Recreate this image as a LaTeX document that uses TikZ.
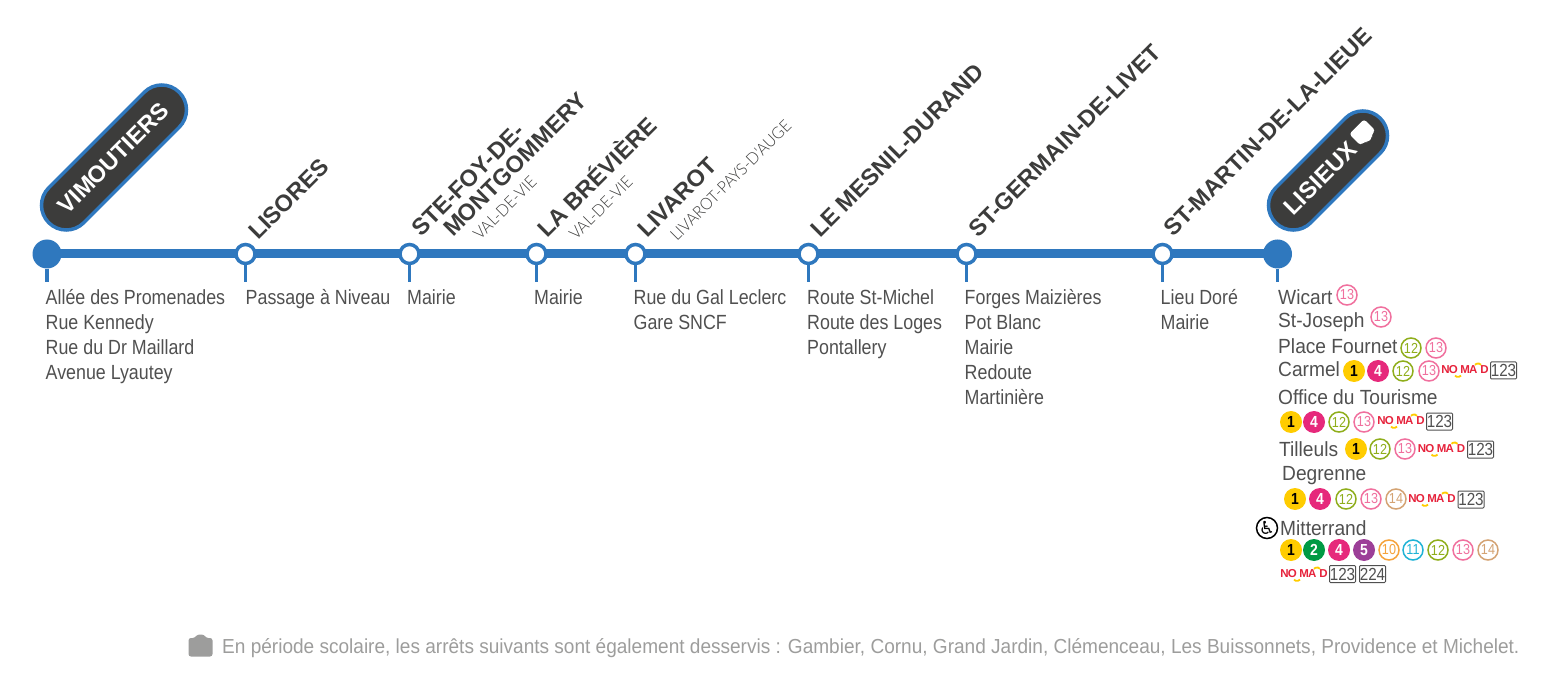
\documentclass[tikz,border=0pt]{standalone}
\usepackage{fontspec}
\usetikzlibrary{backgrounds}
\setmainfont[FakeStretch=0.87]{Liberation Sans}
\newfontfamily\stafont{Liberation Sans}
\newfontfamily\lisfont[FakeStretch=0.935]{Liberation Sans}
\newfontfamily\notefont[FakeStretch=0.938]{Liberation Sans}
\newfontfamily\thinfont[FakeStretch=0.95]{Lato Light}
\newfontfamily\symfont{DejaVu Sans}
\definecolor{lineblue}{HTML}{2F78BE}
\definecolor{darkpill}{HTML}{3C3C3B}
\definecolor{bodytxt}{HTML}{505050}
\definecolor{notegrey}{HTML}{9D9D9C}
\definecolor{cyel}{HTML}{FFCC00}
\definecolor{cpink}{HTML}{E6297B}
\definecolor{cgreen}{HTML}{009A44}
\definecolor{cpurple}{HTML}{9C3F98}
\definecolor{colive}{HTML}{8FAE1B}
\definecolor{crose}{HTML}{F0709E}
\definecolor{ctan}{HTML}{D4A373}
\definecolor{corange}{HTML}{F5A33C}
\definecolor{ccyan}{HTML}{1FB3D6}
\definecolor{cred}{HTML}{E6233C}
\tikzset{
  halt/.style={circle,draw=lineblue,line width=3.5pt,fill=white,minimum size=19pt,inner sep=0pt},
  terminus/.style={circle,fill=lineblue,minimum size=29pt,inner sep=0pt},
  trunk/.style={draw=lineblue,line width=9pt},
  tick/.style={draw=lineblue,line width=3.5pt},
  pill/.style={rectangle,rounded corners=24.7pt,draw=lineblue,line width=3.5pt,fill=darkpill,minimum height=49.5pt,rotate=45,text=white,inner sep=0pt,font=\stafont\bfseries\fontsize{23.5}{24}\selectfont},
  staname/.style={anchor=base west,rotate=45,inner sep=0pt,text=darkpill,font=\stafont\bfseries\fontsize{23.4}{25}\selectfont},
  commune/.style={anchor=base west,rotate=45,inner sep=0pt,text=darkpill,font=\thinfont\fontsize{16.4}{16}\selectfont},
  stops/.style={anchor=north west,align=left,inner sep=0pt,text=bodytxt,font=\fontsize{20.5}{25}\selectfont},
  stopname/.style={anchor=base west,inner sep=0pt,text=bodytxt,font=\lisfont\fontsize{20.5}{25}\selectfont},
  fullb/.style={circle,fill=#1,minimum size=22pt,inner sep=0pt,font=\bfseries\fontsize{16}{16}\selectfont},
  ringb/.style={circle,draw=#1,line width=1.5pt,fill=white,minimum size=20pt,inner sep=0pt,text=#1,font=\fontsize{14.5}{15}\selectfont},
  boxb/.style={rectangle,rounded corners=1pt,draw=bodytxt,line width=1pt,minimum width=26pt,minimum height=17pt,inner sep=0pt,text=bodytxt,font=\fontsize{17.5}{17}\selectfont},
  nomadb/.style={inner sep=0pt,text=cred,font=\stafont\bfseries\fontsize{11.5}{12}\selectfont},
  wave/.style={draw=cyel,line width=1.8pt},
  note/.style={anchor=base west,inner sep=0pt,text=notegrey,font=\notefont\fontsize{20.3}{25}\selectfont}
}
\newcommand{\lineA}[3]{\node[fullb=cyel,text=black] (#1) at (#2,#3) {1};}
\newcommand{\lineB}[3]{\node[fullb=cgreen,text=white] (#1) at (#2,#3) {2};}
\newcommand{\lineD}[3]{\node[fullb=cpink,text=white] (#1) at (#2,#3) {4};}
\newcommand{\lineE}[3]{\node[fullb=cpurple,text=white] (#1) at (#2,#3) {5};}
\newcommand{\ringnum}[5]{\node[ringb=#2] (#1) at (#3,#4) {#5};}
\newcommand{\nomadlogo}[3]{%
  \node[nomadb] (#1) at (#2,#3) {N\kern-0.8pt O\kern2.6pt M\kern-0.8pt A\kern2.8pt D};
  \draw[wave] ([shift={(-10,5.6)}]#1.center) arc[start angle=200,end angle=340,x radius=3.2pt,y radius=2pt];
  \draw[wave] ([shift={(10,-5.2)}]#1.center) arc[start angle=160,end angle=20,x radius=3.2pt,y radius=2pt];}
\newcommand{\fareone}[3]{\node[boxb] (#1) at (#2,#3) {123};}
\newcommand{\faretwo}[3]{\node[boxb] (#1) at (#2,#3) {224};}
\begin{document}
\begin{tikzpicture}[x=1pt,y=-1pt]
\useasboundingbox (0,0) rectangle (1559,676);
% stations
\node[terminus] (s1) at (47,254) {};
\node[halt] (s2) at (245.5,254) {};
\node[halt] (s3) at (409.5,254) {};
\node[halt] (s4) at (536.5,254) {};
\node[halt] (s5) at (635.5,254) {};
\node[halt] (s6) at (808.5,254) {};
\node[halt] (s7) at (966.5,254) {};
\node[halt] (s8) at (1162.5,254) {};
\node[terminus] (s9) at (1277.5,254) {};
\begin{scope}[on background layer]
\draw[trunk] (s1.center)--(s2.center) (s2.center)--(s3.center) (s3.center)--(s4.center) (s4.center)--(s5.center) (s5.center)--(s6.center) (s6.center)--(s7.center) (s7.center)--(s8.center) (s8.center)--(s9.center);
\end{scope}
\foreach \n/\x in {s1/47,s2/245.5,s3/409.5,s4/536.5,s5/635.5,s6/808.5,s7/966.5,s8/1162.5,s9/1277.5}{
  \coordinate (\n t) at (\x,282);
  \draw[tick] (\n) -- (\n t);
}
% pills
\node[pill,minimum width=184.5pt] (pv) at (114,157.5) {\kern-2pt VIMOUTIERS};
\node[pill,minimum width=147.8pt] (pl) at (1328,170.5) {\kern-22pt LISIEUX};
\begin{scope}[shift={(1363,133)},rotate=45,yscale=-1]
  \fill[white,rounded corners=3pt] (-10.5,9) -- (10.5,9) -- (10.5,-7) -- (5,-7) -- (3,-10) -- (-3,-10) -- (-5,-7) -- (-10.5,-7) -- cycle;
\end{scope}
% station names
\node[staname] (n2) at (258,241) {LISORES};
\node[staname] (n3a) at (421,238) {STE-FOY-DE-};
\node[staname] (n3b) at (453,238) {MONTGOMMERY};
\node[commune] (c3) at (480,241) {VAL-DE-VIE};
\node[staname] (n4) at (547,239) {LA BRÉVIÈRE};
\node[commune] (c4) at (576,241) {VAL-DE-VIE};
\node[staname] (n5) at (647,239) {LIVAROT};
\node[commune] (c5) at (677,242) {LIVAROT-PAYS-D'AUGE};
\node[staname] (n6) at (820,239) {LE MESNIL-DURAND};
\node[staname] (n7) at (978,239) {ST-GERMAIN-DE-LIVET};
\node[staname] (n8) at (1173,238) {ST-MARTIN-DE-LA-LIEUE};
% stops
\node[stops] (t1) at (45.5,289.5) {Allée des Promenades\\Rue Kennedy\\Rue du Dr Maillard\\Avenue Lyautey};
\node[stops] (t2) at (245.5,289.5) {Passage à Niveau};
\node[stops] (t3) at (407,289.5) {Mairie};
\node[stops] (t4) at (534,289.5) {Mairie};
\node[stops] (t5) at (633.5,289.5) {Rue du Gal Leclerc\\Gare SNCF};
\node[stops] (t6) at (807,289.5) {Route St-Michel\\Route des Loges\\Pontallery};
\node[stops] (t7) at (964.5,289.5) {Forges Maizières\\Pot Blanc\\Mairie\\Redoute\\Martinière};
\node[stops] (t8) at (1160.5,289.5) {Lieu Doré\\Mairie};
% Lisieux stops
\node[stopname] (w) at (1278,304.5) {Wicart};
\ringnum{w13}{crose}{1347}{295}{13}
\node[stopname] (j) at (1278,327.5) {St-Joseph};
\ringnum{j13}{crose}{1381}{317}{13}
\node[stopname] (f) at (1278,353.5) {Place Fournet};
\ringnum{f12}{colive}{1411}{348}{12}
\ringnum{f13}{crose}{1436}{348}{13}
\node[stopname] (c) at (1278,377) {Carmel};
\lineA{c1}{1354}{371}
\lineD{c4}{1378}{371}
\ringnum{c12}{colive}{1403}{371}{12}
\ringnum{c13}{crose}{1429}{371}{13}
\nomadlogo{cn}{1465}{370}
\fareone{cb}{1503.5}{370.5}
\node[stopname] (o) at (1278,404) {Office du Tourisme};
\lineA{o1}{1291}{422}
\lineD{o4}{1314}{422}
\ringnum{o12}{colive}{1339}{422}{12}
\ringnum{o13}{crose}{1364}{422}{13}
\nomadlogo{on}{1401}{421}
\fareone{ob}{1439.5}{421.5}
\node[stopname] (i) at (1279,456) {Tilleuls};
\lineA{i1}{1356}{449}
\ringnum{i12}{colive}{1380}{449}{12}
\ringnum{i13}{crose}{1405}{449}{13}
\nomadlogo{in}{1441.5}{449}
\fareone{ib}{1480.5}{449.5}
\node[stopname] (d) at (1282,480.5) {Degrenne};
\lineA{d1}{1295}{499}
\lineD{d4}{1320}{499}
\ringnum{d12}{colive}{1346}{499}{12}
\ringnum{d13}{crose}{1371}{499}{13}
\ringnum{d14}{ctan}{1396}{499}{14}
\nomadlogo{dn}{1432}{499}
\fareone{db}{1471}{499.5}
\node[circle,draw=black,line width=1.5pt,minimum size=21pt,inner sep=0pt,font=\symfont\bfseries\fontsize{18}{18}\selectfont] (wc) at (1267,528) {♿};
\node[stopname] (m) at (1280,535) {Mitterrand};
\lineA{m1}{1291}{550}
\lineB{m2}{1314}{550}
\lineD{m4}{1339}{550}
\lineE{m5}{1364}{550}
\ringnum{m10}{corange}{1389}{550}{10}
\ringnum{m11}{ccyan}{1413}{550}{11}
\ringnum{m12}{colive}{1438}{550}{12}
\ringnum{m13}{crose}{1463}{550}{13}
\ringnum{m14}{ctan}{1488}{550}{14}
\nomadlogo{mn}{1304}{574}
\fareone{mb1}{1342.5}{574}
\faretwo{mb2}{1372.5}{574}
% note
\fill[notegrey,rounded corners=2.5pt] (188.5,656.5) -- (212.5,656.5) -- (212.5,638) -- (206,638) -- (204,634.5) -- (197,634.5) -- (195,638) -- (188.5,638) -- cycle;
\node[note] (nt) at (222,653) {En période scolaire, les arrêts suivants sont également desservis : Gambier, Cornu, Grand Jardin, Clémenceau, Les Buissonnets, Providence et Michelet.};
\end{tikzpicture}
\end{document}
